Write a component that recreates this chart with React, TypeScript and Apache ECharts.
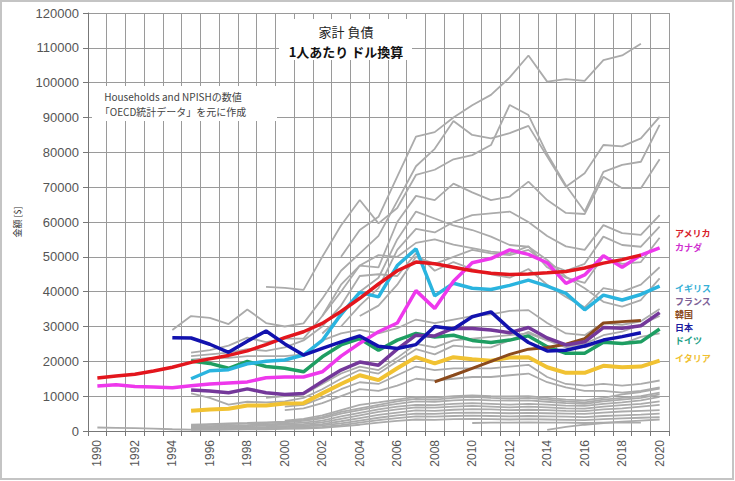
import React, { useEffect, useRef } from "react";
import * as echarts from "echarts";

const years = ["1990","1991","1992","1993","1994","1995","1996","1997","1998","1999","2000","2001","2002","2003","2004","2005","2006","2007","2008","2009","2010","2011","2012","2013","2014","2015","2016","2017","2018","2019","2020"];

// highlighted countries (value arrays begin at the given start year)
const usaStart = 1990;
const usa = [15200,15800,16300,17200,18300,19700,20700,21700,23000,24800,26800,28500,30900,34300,38100,42200,46000,48500,48000,47000,46000,45300,44900,45100,45400,45800,46800,48200,49200,50500];
const canadaStart = 1990;
const canada = [12900,13300,12800,12600,12400,13000,13500,13800,14100,15300,15500,15500,17000,21500,25200,28500,31000,40300,35200,43000,48300,49500,52000,50700,48300,42400,44800,50300,47000,50500,52600];
const ukStart = 1995;
const uk = [15000,17300,17600,19300,20000,20400,21800,26000,33500,39800,38500,47500,52300,38800,42400,41000,40600,41800,43300,41600,39500,34800,39000,37600,39200,41600];
const franceStart = 1995;
const france = [11800,11500,11000,12100,11000,10500,10800,14200,17500,19800,18900,23500,27500,27300,29500,29400,29000,28200,29700,26700,24700,25600,29700,29500,30200,34000];
const koreaStart = 2008;
const korea = [14100,16000,18000,20000,22000,23500,24000,24900,26500,31000,31400,31700];
const japanStart = 1994;
const japan = [26800,26700,24900,22600,25800,28700,25000,21800,23700,25600,27300,24300,23700,24800,30000,29300,32800,34200,29300,25400,23000,23200,24400,26100,27100,28200];
const germanyStart = 1995;
const germany = [20100,19400,18000,20000,18500,18000,17000,21300,24700,26500,23200,26100,28000,27000,27500,26000,25400,26100,27300,24200,22300,22300,25500,25100,25600,29300];
const italyStart = 1995;
const italy = [5800,6200,6400,7300,7300,7900,8000,10800,13500,16000,14600,18000,21200,19400,21200,20600,20200,21100,21200,18300,16700,16700,18700,18300,18500,20200];

// other OECD countries (grey)
const g01 = [50000,57700,61500,73000,84500,85800,90000,93500,96500,101500,107800,100300,101000,100500,106500,107800,111200]; // from 2003
const g02 = [29000,33000,32500,30700,34900,31000,30000,30900,38000,46000,51000,56000,66000,76000,81000,89000,85000,84000,85500,87600,78800,70100,74000,82100,81700,84000,90200]; // from 1994
const g03 = [41400,41100,40500,50000,59000,66300,59600,64000,73500,75000,78000,79200,82100,93600,90700,79500,70500,63000,74400,76400,77300,87900]; // from 1999
const g04 = [33000,42000,47500,47000,60000,67500,66300,71000,68500,66300,67300,71600,66300,62600,62300,73000,69700,69700,78000]; // from 2002
const g05 = [22500,23200,24500,26800,25500,26500,26500,33000,40000,47500,50500,50000,54000,55000,53500,52500,51500,51000,53000,47000,44000,42500,50000,48000,48500,55500]; // from 1995
const g06 = [21500,22000,22500,23500,23000,24000,26000,30000,36000,44500,45000,44500,51000,46000,48500,46500,45000,44000,46500,42000,38500,35500,41000,40000,42000,47000]; // from 1995
const g07 = [28000,33000,40000,44000,55000,63000,61000,59000,57700,55800,53400,52900,49100,44300,41000,37100,35700,37600,43800]; // from 2002
const g08 = [30000,36000,41000,52000,58000,57000,60000,62000,62500,63000,60000,56000,53000,52000,59100,56800,56300,62000]; // from 2003
const g09 = [33000,36000,42000,50000,48000,50000,52000,51000,50500,52000,48000,46000,48000,55800,53400,52900,58700]; // from 2004
const g10 = [20500,21000,21000,21500,21500,21500,22000,26000,28000,29000,28000,29500,32000,31000,32000,33000,33500,34500,34700,31000,28000,27500,31000,30500,31500,35000]; // from 1995
const g11 = [10800,9500,7600,8400,8200,8500,9500,12000,15000,17500,16500,20000,23500,22000,24500,24000,24000,26000,28500,26000,24000,25000,27500,28500,30500,33000]; // from 1995
const g12 = [9500,10000,10500,13500,16500,18500,17500,21000,25000,24000,26000,26500,27000,27500,28000,26000,25000,24000,25500,25000,27000,28000]; // from 1999
const g13 = [7000,7500,9500,12000,14000,13500,16000,18500,17500,18000,18000,18000,18500,19000,15500,13500,13000,13500,13000,13500,14500]; // from 2000
const g14 = [6000,6500,8000,10000,12000,11500,13000,15000,14500,15000,15500,15500,16000,16500,14000,12500,11500,11500,11000,11500,12500]; // from 2000
const g15 = [1800,2000,2200,2300,2500,2700,3200,4000,5500,6500,7500,8500,9200,9000,9500,9800,9500,9300,9500,9000,8500,8200,9000,9500,10000,11000]; // from 1995
const g16 = [1500,1800,2000,2100,2300,2500,2900,3600,5000,6000,7000,7800,8500,8400,8800,9000,8800,8700,8800,8400,8000,7800,8500,9000,9500,10500]; // from 1995
const g17 = [1200,1400,1600,1700,1900,2100,2400,3000,4200,5200,6200,7000,7500,7400,7800,8000,7800,7600,7800,7600,7300,7200,7800,8200,8800,9800]; // from 1995
const g18 = [1000,1100,1300,1400,1600,1800,2000,2500,3500,4500,5500,6200,6800,6700,7000,7200,7000,6800,7000,6800,6500,6400,7000,7400,7800,8500]; // from 1995
const g19 = [800,900,1000,1100,1200,1400,1600,2000,2800,3700,4600,5300,5900,5800,6100,6300,6200,6000,6100,6000,5800,5700,6200,6500,7000,7500]; // from 1995
const g20 = [600,700,800,900,1000,1100,1300,1600,2200,3000,3800,4500,5000,4900,5200,5300,5200,5100,5200,5100,5000,4900,5300,5600,5800,6000]; // from 1995
const g21 = [500,550,600,650,700,800,950,1200,1700,2400,3100,3700,4200,4100,4300,4400,4300,4200,4300,4200,4100,4000,4300,4500,4700,5000]; // from 1995
const g22 = [300,350,400,450,500,600,700,900,1300,1800,2400,2900,3300,3200,3400,3500,3400,3300,3400,3300,3200,3100,3400,3600,3800,4000]; // from 1995
const g23 = [2300,2400,2400,2500,2400,2400,2300,2400,2400,2400]; // from 2010
const g24 = [300,1200,1800,2300,2700,3000,3300]; // from 2014
const g25 = [1000,900,800,700,500,400]; // from 1990
const g26 = [3000,3500,4500,6000,7500,8200,9000,9800,9600,10000,10200,10000,9900,10000,9500,9000,8800,9500,10500,11200,12200]; // from 2000

const greyStarts = [2003,1994,1999,2002,1995,1995,2002,2003,2004,1995,1995,1999,2000,2000,1995,1995,1995,1995,1995,1995,1995,1995,2010,2014,1990,2000];
const greyData = [g01,g02,g03,g04,g05,g06,g07,g08,g09,g10,g11,g12,g13,g14,g15,g16,g17,g18,g19,g20,g21,g22,g23,g24,g25,g26];

const yTicks = { min: 0, max: 120000, interval: 10000 };

function place(start: number, vals: number[]) {
  return years.map((y) => {
    const i = Number(y) - start;
    return i >= 0 && i < vals.length ? vals[i] : null;
  });
}

const FONT = "'Liberation Sans', 'Noto Sans CJK JP', sans-serif";
const JFONT = "'Noto Sans CJK JP', 'Liberation Sans', sans-serif";

export default function App() {
  const ref = useRef<HTMLDivElement>(null);
  useEffect(() => {
    if (!ref.current) return;
    const chart = echarts.init(ref.current, null, { renderer: "svg" });

    const greySeries = greyData.map((vals, k) => ({
      type: "line",
      name: "g" + k,
      data: place(greyStarts[k], vals),
      symbol: "none",
      silent: true,
      z: 2,
      lineStyle: { color: "#ababab", width: 1.8 },
    }));

    const main = [
      { name: "イタリア", start: italyStart, vals: italy, color: "#f1c232", w: 4 },
      { name: "ドイツ", start: germanyStart, vals: germany, color: "#1e9e62", w: 3.5 },
      { name: "韓国", start: koreaStart, vals: korea, color: "#8b4a1c", w: 3 },
      { name: "フランス", start: franceStart, vals: france, color: "#74389a", w: 3.5 },
      { name: "イギリス", start: ukStart, vals: uk, color: "#2ab4df", w: 3.5 },
      { name: "カナダ", start: canadaStart, vals: canada, color: "#ee38ec", w: 3.5 },
      { name: "アメリカ", start: usaStart, vals: usa, color: "#e3161d", w: 3.5 },
      { name: "日本", start: japanStart, vals: japan, color: "#1212ae", w: 3.5 },
    ].map((s, k) => ({
      type: "line",
      name: s.name,
      data: place(s.start, s.vals),
      symbol: "none",
      silent: true,
      z: 3 + k,
      lineStyle: { color: s.color, width: s.w },
    }));

    const labels = [
      { t: "アメリカ", y: 233, c: "#d8202a" },
      { t: "カナダ", y: 247, c: "#cf2fcf" },
      { t: "イギリス", y: 288, c: "#35afd6" },
      { t: "フランス", y: 301, c: "#7d6196" },
      { t: "韓国", y: 314, c: "#8b4a1c" },
      { t: "日本", y: 327, c: "#1a1aa0" },
      { t: "ドイツ", y: 340, c: "#22a085" },
      { t: "イタリア", y: 358, c: "#f0c030" },
    ].map((l) => ({
      type: "text",
      x: 675,
      y: l.y,
      z: 100,
      style: { text: l.t, fill: l.c, font: "bold 9px " + JFONT, verticalAlign: "middle", lineHeight: 9 },
    }));

    chart.setOption({
      animation: false,
      backgroundColor: "#ffffff",
      grid: { left: 88, top: 13, right: 66, bottom: 50 },
      xAxis: {
        type: "category",
        data: years,
        boundaryGap: true,
        axisLine: { show: true, lineStyle: { color: "#777", width: 1 } },
        axisTick: { show: true, interval: 0, length: 5, lineStyle: { color: "#777" } },
        axisLabel: { interval: 1, rotate: 90, margin: 9, color: "#555", fontSize: 12, fontFamily: FONT },
        splitLine: { show: true, interval: 0, lineStyle: { color: "#9a9a9a", width: 1 } },
      },
      yAxis: {
        type: "value",
        min: yTicks.min,
        max: yTicks.max,
        interval: yTicks.interval,
        name: "金額 [$]",
        nameLocation: "middle",
        nameRotate: 90,
        nameGap: 66,
        nameTextStyle: { color: "#333", fontSize: 9, fontFamily: JFONT },
        axisLine: { show: true, lineStyle: { color: "#777", width: 1 } },
        axisTick: { show: true, length: 5, lineStyle: { color: "#777" } },
        axisLabel: { margin: 9, color: "#555", fontSize: 13, fontFamily: FONT, formatter: (v: number) => String(v) },
        splitLine: { show: true, lineStyle: { color: "#9a9a9a", width: 1 } },
      },
      graphic: [
        { type: "rect", z: 100, shape: { x: 1, y: 1, width: 732, height: 478 }, style: { fill: "none", stroke: "#c4c4c4", lineWidth: 2 } },
        { type: "rect", z: 100, shape: { x: 279, y: 19, width: 133, height: 41 }, style: { fill: "#ffffff" } },
        { type: "text", z: 101, x: 346, y: 31, style: { text: "家計 負債", fill: "#222", font: "13px " + JFONT, align: "center", verticalAlign: "middle" } },
        { type: "text", z: 101, x: 346, y: 51, style: { text: "1人あたり ドル換算", fill: "#111", font: "bold 13px " + JFONT, align: "center", verticalAlign: "middle" } },
        { type: "rect", z: 100, shape: { x: 92, y: 86, width: 185, height: 35 }, style: { fill: "#ffffff" } },
        { type: "text", z: 101, x: 173, y: 96, style: { text: "Households and NPISHの数値", fill: "#444", font: "10px " + JFONT, align: "center", verticalAlign: "middle" } },
        { type: "text", z: 101, x: 173, y: 111, style: { text: "「OECD統計データ」を元に作成", fill: "#444", font: "10px " + JFONT, align: "center", verticalAlign: "middle" } },
        ...labels,
      ],
      series: [...greySeries, ...main],
    });
    return () => chart.dispose();
  }, []);
  return (
    <div
      ref={ref}
      style={{ position: "absolute", left: 0, top: 0, width: 735, height: 481, background: "#fff" }}
    />
  );
}
